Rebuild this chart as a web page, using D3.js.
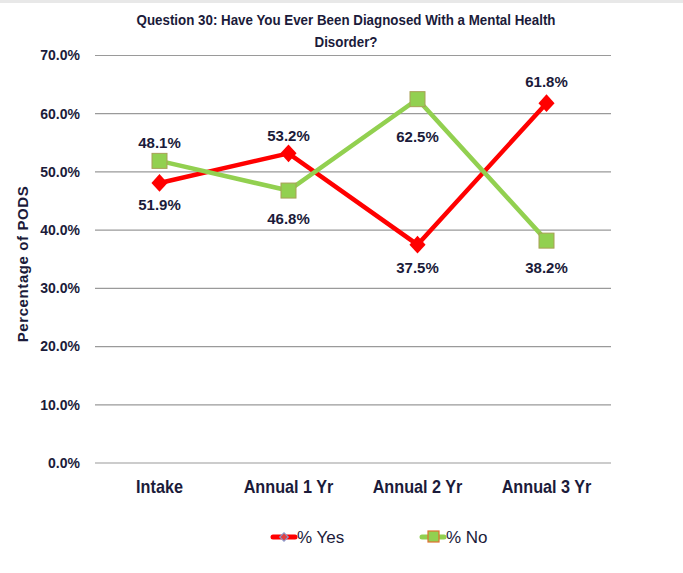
<!DOCTYPE html>
<html>
<head>
  <meta charset="utf-8">
  <title>q30</title>
  <style>
    body { margin: 0; background: #fff; overflow: hidden; }
    .title { font-family: "Liberation Sans", Arial, sans-serif; font-weight: bold; font-size: 15px; fill: #1b1b3a; text-anchor: middle; }
    .ytitle { font-family: "Liberation Sans", Arial, sans-serif; font-weight: bold; font-size: 15px; fill: #1b1b3a; text-anchor: middle; letter-spacing: 0.6px; }
    .ytick text { font-family: "Liberation Sans", Arial, sans-serif; font-weight: bold; font-size: 14px; fill: #1b1b3a; }
    .xtick text { font-family: "Liberation Sans", Arial, sans-serif; font-weight: bold; font-size: 18px; fill: #1b1b3a; }
    .dlabel { font-family: "Liberation Sans", Arial, sans-serif; font-weight: bold; font-size: 15px; fill: #1b1b3a; text-anchor: middle; }
    .legend text { font-family: "Liberation Sans", Arial, sans-serif; font-size: 17px; fill: #1b1b3a; }
  </style>
</head>
<body>
<svg id="chart" width="683" height="573"></svg>
<script src="https://cdn.jsdelivr.net/npm/d3@7"></script>
<script>
// data
var categories = ["Intake", "Annual 1 Yr", "Annual 2 Yr", "Annual 3 Yr"];
var yesValues = [48.1, 53.2, 37.5, 61.8];
var noValues = [51.9, 46.8, 62.5, 38.2];
// labels as printed in the chart (intake labels appear swapped in the original)
var yesLabels = ["51.9%", "53.2%", "37.5%", "61.8%"];
var noLabels = ["48.1%", "46.8%", "62.5%", "38.2%"];
var yTicks = [0, 10, 20, 30, 40, 50, 60, 70];

var svg = d3.select("#chart");

// light band at the top
svg.append("rect").attr("x", 0).attr("y", 0).attr("width", 683).attr("height", 3).attr("fill", "#e8e8e8");

var x = d3.scaleBand().domain(categories).range([95, 611]);
var y = d3.scaleLinear().domain([0, 70]).range([463, 55.5]);

// gridlines + y labels
var yt = svg.selectAll(".ytick").data(yTicks).enter().append("g")
    .attr("class", "ytick")
    .attr("transform", function(d) { return "translate(0," + y(d) + ")"; });
yt.append("line").attr("x1", 95).attr("x2", 611)
    .attr("stroke", "#9a9a9a").attr("stroke-width", 1.2);
yt.append("text").attr("x", 80).attr("dy", "0.35em").attr("text-anchor", "end")
    .text(function(d) { return d.toFixed(1) + "%"; });

// x labels (slightly condensed)
svg.selectAll(".xtick").data(categories).enter().append("g")
    .attr("class", "xtick")
  .append("text")
    .attr("transform", function(d) { return "translate(" + (x(d) + x.bandwidth() / 2) + ",493) scale(0.9,1)"; })
    .attr("text-anchor", "middle")
    .text(function(d) { return d; });

// titles
svg.append("text").attr("class", "title").attr("transform", "translate(346,25) scale(0.89,1)")
    .text("Question 30:  Have You Ever Been Diagnosed With a Mental Health");
svg.append("text").attr("class", "title").attr("transform", "translate(346,47) scale(0.89,1)")
    .text("Disorder?");
svg.append("text").attr("class", "ytitle")
    .attr("transform", "translate(28,264) rotate(-90)")
    .text("Percentage   of PODS");

function cx(i) { return x(categories[i]) + x.bandwidth() / 2; }

var line = d3.line().x(function(d, i) { return cx(i); }).y(function(d) { return y(d); });

var red = "#ff0000", green = "#92d050";

svg.append("path").datum(yesValues).attr("d", line)
    .attr("fill", "none").attr("stroke", red).attr("stroke-width", 4.5);
svg.append("path").datum(noValues).attr("d", line)
    .attr("fill", "none").attr("stroke", green).attr("stroke-width", 4.5);

svg.selectAll(".ym").data(yesValues).enter().append("path")
    .attr("d", d3.symbol().type(d3.symbolSquare).size(130))
    .attr("transform", function(d, i) { return "translate(" + cx(i) + "," + y(d) + ") scale(1,1.1) rotate(45)"; })
    .attr("fill", red);

svg.selectAll(".nm").data(noValues).enter().append("rect")
    .attr("x", function(d, i) { return cx(i) - 7.5; })
    .attr("y", function(d) { return y(d) - 7.5; })
    .attr("width", 15).attr("height", 15)
    .attr("fill", green).attr("stroke", "#a8a055").attr("stroke-width", 1);

// data labels (offset: negative = above)
var yesOff = [22, -18, 23, -21];
var noOff = [-18, 28, 38, 27];
svg.selectAll(".yl").data(yesValues).enter().append("text")
    .attr("class", "dlabel")
    .attr("x", function(d, i) { return cx(i); })
    .attr("y", function(d, i) { return y(d) + yesOff[i]; })
    .attr("dy", "0.35em")
    .text(function(d, i) { return yesLabels[i]; });
svg.selectAll(".nl").data(noValues).enter().append("text")
    .attr("class", "dlabel")
    .attr("x", function(d, i) { return cx(i); })
    .attr("y", function(d, i) { return y(d) + noOff[i]; })
    .attr("dy", "0.35em")
    .text(function(d, i) { return noLabels[i]; });

// legend
var lg = svg.append("g").attr("class", "legend");
lg.append("line").attr("x1", 273).attr("x2", 295).attr("y1", 537).attr("y2", 537)
    .attr("stroke", red).attr("stroke-width", 5).attr("stroke-linecap", "round");
lg.append("path").attr("d", d3.symbol().type(d3.symbolSquare).size(36))
    .attr("transform", "translate(284,537) rotate(45)")
    .attr("fill", "#e04040").attr("stroke", "#8899cc").attr("stroke-width", 1.2);
lg.append("text").attr("x", 297).attr("y", 537).attr("dy", "0.35em").text("% Yes");
lg.append("line").attr("x1", 422).attr("x2", 444).attr("y1", 537).attr("y2", 537)
    .attr("stroke", green).attr("stroke-width", 5).attr("stroke-linecap", "round");
lg.append("rect").attr("x", 428).attr("y", 531).attr("width", 11).attr("height", 11)
    .attr("fill", green).attr("stroke", "#e07030").attr("stroke-width", 1.2);
lg.append("text").attr("x", 446).attr("y", 537).attr("dy", "0.35em").text("% No");
</script>
</body>
</html>
